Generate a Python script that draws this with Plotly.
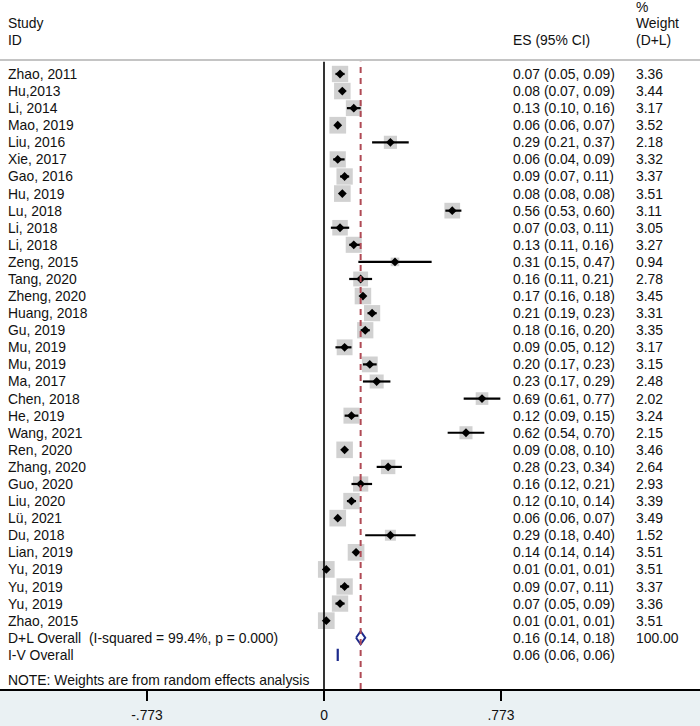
import plotly.graph_objects as go
import numpy as np

studies = ["Zhao, 2011", "Hu,2013", "Li, 2014", "Mao, 2019", "Liu, 2016", "Xie, 2017",
           "Gao, 2016", "Hu, 2019", "Lu, 2018", "Li, 2018", "Li, 2018", "Zeng, 2015",
           "Tang, 2020", "Zheng, 2020", "Huang, 2018", "Gu, 2019", "Mu, 2019", "Mu, 2019",
           "Ma, 2017", "Chen, 2018", "He, 2019", "Wang, 2021", "Ren, 2020", "Zhang, 2020",
           "Guo, 2020", "Liu, 2020", "Lü, 2021", "Du, 2018", "Lian, 2019", "Yu, 2019",
           "Yu, 2019", "Yu, 2019", "Zhao, 2015"]
es = [0.07, 0.08, 0.13, 0.06, 0.29, 0.06, 0.09, 0.08, 0.56, 0.07, 0.13, 0.31, 0.16, 0.17,
      0.21, 0.18, 0.09, 0.20, 0.23, 0.69, 0.12, 0.62, 0.09, 0.28, 0.16, 0.12, 0.06, 0.29,
      0.14, 0.01, 0.09, 0.07, 0.01]
ci_lo = [0.05, 0.07, 0.10, 0.06, 0.21, 0.04, 0.07, 0.08, 0.53, 0.03, 0.11, 0.15, 0.11, 0.16,
         0.19, 0.16, 0.05, 0.17, 0.17, 0.61, 0.09, 0.54, 0.08, 0.23, 0.12, 0.10, 0.06, 0.18,
         0.14, 0.01, 0.07, 0.05, 0.01]
ci_hi = [0.09, 0.09, 0.16, 0.07, 0.37, 0.09, 0.11, 0.08, 0.60, 0.11, 0.16, 0.47, 0.21, 0.18,
         0.23, 0.20, 0.12, 0.23, 0.29, 0.77, 0.15, 0.70, 0.10, 0.34, 0.21, 0.14, 0.07, 0.40,
         0.14, 0.01, 0.11, 0.09, 0.01]
weights = [3.36, 3.44, 3.17, 3.52, 2.18, 3.32, 3.37, 3.51, 3.11, 3.05, 3.27, 0.94, 2.78, 3.45,
           3.31, 3.35, 3.17, 3.15, 2.48, 2.02, 3.24, 2.15, 3.46, 2.64, 2.93, 3.39, 3.49, 1.52,
           3.51, 3.51, 3.37, 3.36, 3.51]

dl_label = "D+L Overall  (I-squared = 99.4%, p = 0.000)"
dl_es, dl_lo, dl_hi, dl_w = 0.16, 0.14, 0.18, 100.00
iv_label = "I-V Overall"
iv_es, iv_lo, iv_hi = 0.06, 0.06, 0.06
note = "NOTE: Weights are from random effects analysis"
tick_vals = [-0.773, 0, 0.773]
tick_text = ["-.773", "0", ".773"]

FONT = "Liberation Sans, Arial, sans-serif"
FS = 13.9
n = len(studies)
ys = [-i for i in range(n)]
y_dl = -n
y_iv = -n - 1
y_note = -n - 2.48
y_bottom = -36.0
y_top = 4.33
y_header_line = 0.82

px_per_unit = 229.0
x0_px = 324.0
W = 700
xr = [-x0_px / px_per_unit, (W - x0_px) / px_per_unit]

fig = go.Figure()

# weight boxes
fig.add_trace(go.Scatter(
    x=es, y=ys, mode="markers",
    marker=dict(symbol="square", size=[8.9 * np.sqrt(w) for w in weights],
                color="#bdbdbd", line=dict(width=0)),
    hoverinfo="skip"))

# CI lines + point estimates
fig.add_trace(go.Scatter(
    x=es, y=ys, mode="markers",
    marker=dict(symbol="diamond", size=6.8, color="black"),
    error_x=dict(type="data", symmetric=False,
                 array=[h - e for h, e in zip(ci_hi, es)],
                 arrayminus=[e - l for e, l in zip(es, ci_lo)],
                 color="black", thickness=2.2, width=0),
    hoverinfo="skip"))

# D+L overall diamond
h = 0.38
fig.add_trace(go.Scatter(
    x=[dl_lo, dl_es, dl_hi, dl_es, dl_lo],
    y=[y_dl, y_dl + h, y_dl, y_dl - h, y_dl],
    mode="lines", line=dict(color="#1c2a8c", width=2), hoverinfo="skip"))

# I-V overall (degenerate diamond)
fig.add_trace(go.Scatter(
    x=[iv_lo, iv_es, iv_hi, iv_es, iv_lo],
    y=[y_iv, y_iv + 0.36, y_iv, y_iv - 0.36, y_iv],
    mode="lines", line=dict(color="#1c2a8c", width=2.2), hoverinfo="skip"))

shapes = [
    dict(type="line", xref="paper", yref="y", x0=0, x1=1, y0=y_header_line, y1=y_header_line,
         line=dict(color="#c4c4c4", width=2)),
    dict(type="line", xref="x", yref="y", x0=0, x1=0, y0=y_bottom, y1=y_header_line - 0.1,
         line=dict(color="black", width=1.6)),
    dict(type="line", xref="x", yref="y", x0=dl_es, x1=dl_es, y0=y_bottom, y1=y_header_line - 0.1,
         line=dict(color="#b04a55", width=2, dash="6px,5px")),
]

ann = []
def txt(x, y, s):
    ann.append(dict(x=x, y=y, xref="paper", yref="y", text=s, showarrow=False,
                    xanchor="left", yanchor="middle", align="left",
                    font=dict(family=FONT, size=FS, color="#111111")))

lx = 6 / W
ex = 511 / W
wx = 634 / W
txt(lx, 3.0, "Study")
txt(lx, 2.0, "ID")
txt(ex, 2.0, "ES (95% CI)")
txt(wx, 3.9, "%")
txt(wx, 3.0, "Weight")
txt(wx, 2.0, "(D+L)")
for i in range(n):
    txt(lx, ys[i], studies[i])
    txt(ex, ys[i], f"{es[i]:.2f} ({ci_lo[i]:.2f}, {ci_hi[i]:.2f})")
    txt(wx, ys[i], f"{weights[i]:.2f}")
txt(lx, y_dl, dl_label)
txt(ex, y_dl, f"{dl_es:.2f} ({dl_lo:.2f}, {dl_hi:.2f})")
txt(wx, y_dl, f"{dl_w:.2f}")
txt(lx, y_iv, iv_label)
txt(ex, y_iv, f"{iv_es:.2f} ({iv_lo:.2f}, {iv_hi:.2f})")
txt(lx, y_note, note)

fig.update_layout(
    width=700, height=726,
    margin=dict(l=0, r=0, t=0, b=37, pad=0),
    paper_bgcolor="#eaf1f3", plot_bgcolor="white",
    showlegend=False, shapes=shapes, annotations=ann,
    xaxis=dict(range=xr, showgrid=False, zeroline=False, showline=True,
               linecolor="black", linewidth=1.5, ticks="outside", ticklen=10,
               tickwidth=2, tickcolor="black", tickvals=tick_vals, ticktext=tick_text,
               tickfont=dict(family=FONT, size=FS, color="#111111"),
               ticklabelstandoff=3, fixedrange=True),
    yaxis=dict(range=[y_bottom, y_top], visible=False, fixedrange=True),
)

fig.write_html("out.html", config={"displayModeBar": False},
               post_script="document.body.style.margin='0';document.body.style.overflow='hidden';")
